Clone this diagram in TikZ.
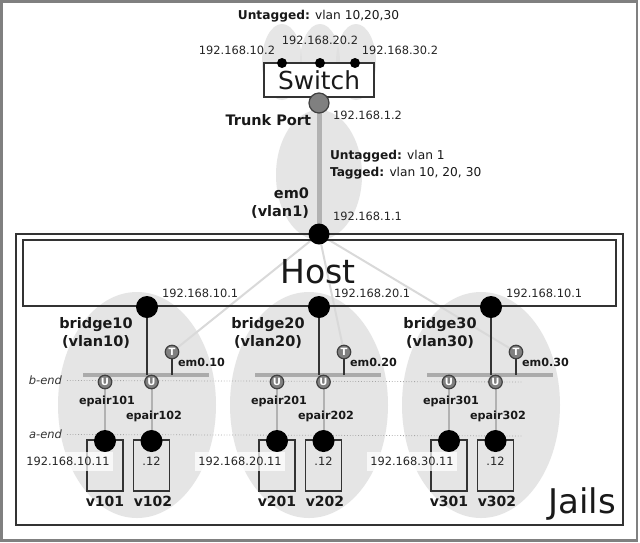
\documentclass[tikz,border=0pt]{standalone}
\usepackage{fontspec}
\setmainfont{DejaVu Sans}
\pgfdeclarelayer{blobs}
\pgfdeclarelayer{wires}
\pgfsetlayers{blobs,wires,main}
\begin{document}
\begin{tikzpicture}[x=1pt,y=-1pt,
  every node/.style={inner sep=0pt, outer sep=0pt},
  iplbl/.style={font=\fontsize{11.4}{13}\selectfont, text=black!85},
  toplbl/.style={font=\fontsize{12.2}{14}\selectfont, text=black!90},
  boldlbl/.style={font=\fontsize{14.5}{17}\selectfont\bfseries, text=black!90},
  vlbl/.style={font=\fontsize{14}{17}\selectfont\bfseries, text=black!90},
  smallbold/.style={font=\fontsize{11.2}{13}\selectfont\bfseries, text=black!90},
  endlbl/.style={font=\fontsize{11.5}{13}\selectfont\itshape, text=black!80},
  blobfill/.style={fill=black!10},
  topblob/.style={fill=black!13, fill opacity=0.75},
  bigdot/.style={circle, fill=black, minimum size=22pt},
  swdot/.style={circle, fill=black, minimum size=10pt},
  portdot/.style={circle, fill=black!50, draw=black!75, line width=1.2pt, minimum size=13.5pt, text=white, font=\fontsize{10}{10}\selectfont\bfseries},
  boxline/.style={draw=black!80, line width=1.4pt},
  darkline/.style={draw=black!80, line width=1.3pt},
  jailwire/.style={draw=black!30, line width=2pt},
  fanline/.style={draw=black!15, line width=2pt},
  barline/.style={draw=black!33, line width=4pt},
  trunkline/.style={draw=black!30, line width=5pt},
  endline/.style={draw=black!35, dotted, line width=0.8pt},
  jailbox/.style={draw=black!80, line width=1.3pt, minimum width=36pt, minimum height=51pt},
]
\useasboundingbox (0,0) rectangle (640,542);
% outer frame
\begin{pgfonlayer}{blobs}
\fill[black!50] (0,0) rectangle (638,542);
\fill[white] (3,3) rectangle (636,539);
% top blobs
\fill[topblob] (282,62) ellipse [x radius=20, y radius=38];
\fill[topblob] (320,62) ellipse [x radius=20, y radius=38];
\fill[topblob] (356,62) ellipse [x radius=20, y radius=38];
% trunk blob
\fill[blobfill] (319,175) ellipse [x radius=43, y radius=65];
\end{pgfonlayer}

% top labels
\node[toplbl, anchor=mid] (untag) at (318.5,17) {\textbf{Untagged:} vlan 10,20,30};
\node[iplbl, anchor=mid] (sw1ip) at (237,52) {192.168.10.2};
\node[iplbl, anchor=mid] (sw2ip) at (320,42) {192.168.20.2};
\node[iplbl, anchor=mid] (sw3ip) at (400,52) {192.168.30.2};

% switch
\node[boxline, fill=white, minimum width=110pt, minimum height=34pt,
      font=\fontsize{24.8}{28}\selectfont, text=black!90] (sw) at (319,80) {Switch};
\node[swdot] (sd1) at (282,63) {};
\node[swdot] (sd2) at (320,63) {};
\node[swdot] (sd3) at (355,63) {};
\node[circle, fill=black!50, draw=black!75, line width=1.2pt, minimum size=20pt] (tp) at (319,103) {};

\node[boldlbl, anchor=mid east] (trunk) at (311,123) {Trunk Port};
\node[iplbl, anchor=mid west] (tpip) at (333,117) {192.168.1.2};
\node[toplbl, anchor=mid west] (ut1) at (330,157) {\textbf{Untagged:} vlan 1};
\node[toplbl, anchor=mid west] (tg1) at (330,174) {\textbf{Tagged:} vlan 10, 20, 30};
\node[boldlbl, anchor=mid east] (em0a) at (309,196) {em0};
\node[boldlbl, anchor=mid east] (em0b) at (309,214) {(vlan1)};
\node[iplbl, anchor=mid west] (em0ip) at (333,218) {192.168.1.1};

% Jails and Host boxes
\node[boxline, minimum width=607pt, minimum height=291pt] (jails) at (319.5,379.5) {};
\node[boxline, minimum width=593pt, minimum height=66pt] (host) at (319.5,273) {};
\node[font=\fontsize{33}{36}\selectfont, text=black!90] (hostlbl) at (318,272) {Host};
\node[font=\fontsize{34}{38}\selectfont, text=black!90, anchor=base east] (jailslbl) at (616,513) {Jails};

\node[bigdot, minimum size=21pt] (em0) at (319,234) {};

\begin{pgfonlayer}{wires}
\draw[trunkline] (tp) -- (em0);
\end{pgfonlayer}

% end markers
\node[endlbl, anchor=mid east] (bendlbl) at (62,382) {b-end};
\node[endlbl, anchor=mid east] (aendlbl) at (62,436) {a-end};
\coordinate (bendR) at (522,382);
\coordinate (aendR) at (522,436);
\begin{pgfonlayer}{wires}
\draw[endline] ([xshift=5pt]bendlbl.east) -- (bendR);
\draw[endline] ([xshift=5pt]aendlbl.east) -- (aendR);
\end{pgfonlayer}

% bridges
\foreach \n/\bx/\ja/\jb/\bip/\jip in {10/147/101/102/192.168.10.1/192.168.10.11,
                                      20/319/201/202/192.168.20.1/192.168.20.11,
                                      30/491/301/302/192.168.10.1/192.168.30.11}{
  \begin{pgfonlayer}{blobs}
  \fill[blobfill] (\bx-10,405) ellipse [x radius=79, y radius=113];
  \end{pgfonlayer}
  \node[bigdot] (br\n) at (\bx,307) {};
  \node[iplbl, anchor=mid west] (brip\n) at (\bx+15,295) {\bip};
  \node[boldlbl, anchor=mid] (brn\n) at (\bx-51,326) {bridge\n};
  \node[boldlbl, anchor=mid] (brv\n) at (\bx-51,344) {(vlan\n)};
  \node[portdot] (t\n) at (\bx+25,352) {T};
  \node[smallbold, anchor=mid west] (tl\n) at (\bx+31,364) {em0.\n};
  \coordinate (barL\n) at (\bx-64,375);
  \coordinate (barR\n) at (\bx+62,375);
  \coordinate (barB\n) at (\bx,375);
  \coordinate (barT\n) at (\bx+25,375);
  \node[portdot] (ua\n) at (\bx-42,382) {U};
  \node[portdot] (ub\n) at (\bx+4.5,382) {U};
  \node[jailbox] (jb\ja) at (\bx-42,465.5) {};
  \node[jailbox] (jb\jb) at (\bx+4.5,465.5) {};
  \node[bigdot] (jc\ja) at (\bx-42,441) {};
  \node[bigdot] (jc\jb) at (\bx+4.5,441) {};
  \node[smallbold, anchor=mid] (ea\ja) at (\bx-40,402) {epair\ja};
  \node[smallbold, anchor=mid] (eb\jb) at (\bx+7,417) {epair\jb};
  \node[iplbl, anchor=mid, fill=white, fill opacity=0.75, text opacity=1,
        inner xsep=3pt, inner ysep=5.5pt] (ipa\ja) at (\bx-79,463) {\jip};
  \node[iplbl, anchor=mid] (ipb\jb) at (\bx+4.5,463) {.12};
  \node[vlbl, anchor=mid] (vn\ja) at (\bx-42,504) {v\ja};
  \node[vlbl, anchor=mid] (vn\jb) at (\bx+6,504) {v\jb};
  \begin{pgfonlayer}{wires}
  \draw[fanline] (em0) -- (t\n);
  \draw[barline] (barL\n) -- (barR\n);
  \draw[darkline] (br\n) -- (barB\n);
  \draw[darkline] (t\n) -- (barT\n);
  \draw[jailwire] (ua\n) -- (jc\ja);
  \draw[jailwire] (ub\n) -- (jc\jb);
  \end{pgfonlayer}
}
\end{tikzpicture}
\end{document}
